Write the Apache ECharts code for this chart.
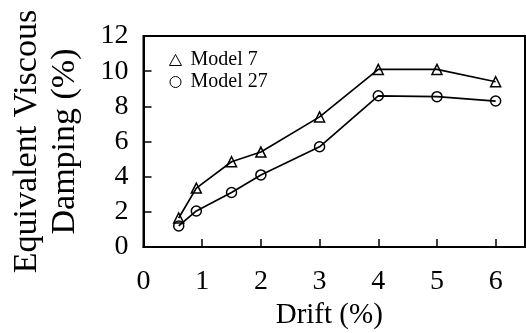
<!DOCTYPE html>
<html>
<head>
<meta charset="utf-8">
<script src="https://cdn.jsdelivr.net/npm/echarts@6/dist/echarts.min.js"></script>
<style>
    html, body {margin: 0; padding: 0; background: #fff;}
    #chart {width: 526px; height: 333px;}
</style>
</head>
<body>
<div id="chart"></div>
<script>
    // drift (%) at each test step
    var drift = [0.6, 0.9, 1.5, 2, 3, 4, 5, 6];
    // equivalent viscous damping (%)
    var model7 = [1.65, 3.35, 4.85, 5.4, 7.4, 10.1, 10.1, 9.4];
    var model27 = [1.2, 2.05, 3.1, 4.1, 5.7, 8.6, 8.55, 8.3];
    var seriesNames = ['Model 7', 'Model 27'];

    var font = 'Liberation Serif, Times New Roman, serif';

    function pairs(xs, ys) {
        var out = [];
        for (var i = 0; i < xs.length; i++) {
            out.push([xs[i], ys[i]]);
        }
        return out;
    }

    function makeSeries(name, values, symbol, size) {
        return {
            name: name,
            type: 'line',
            data: pairs(drift, values),
            symbol: symbol,
            symbolSize: size,
            showAllSymbol: true,
            lineStyle: {color: '#000', width: 1.7},
            itemStyle: {color: 'rgba(0,0,0,0)', borderColor: '#000', borderWidth: 1.5},
            emphasis: {disabled: true},
            z: 3
        };
    }

    var myChart = echarts.init(document.getElementById('chart'), null, {renderer: 'canvas'});
    var option = {
        backgroundColor: '#fff',
        animation: false,
        grid: {
            left: 143.5, top: 36, right: 1, bottom: 86,
            containLabel: false,
            outerBoundsMode: 'none',
            // box closed on top and right
            show: true, borderColor: '#000', borderWidth: 2, backgroundColor: 'rgba(0,0,0,0)'
        },
        legend: {
            orient: 'vertical',
            left: 164,
            top: 45,
            itemWidth: 12,
            itemHeight: 11,
            itemGap: 2,
            textStyle: {fontFamily: font, fontSize: 20, color: '#000', padding: [0, 0, 0, 4]},
            data: [
                {name: seriesNames[0], icon: 'triangle'},
                {name: seriesNames[1], icon: 'circle'}
            ],
            itemStyle: {color: 'rgba(0,0,0,0)', borderColor: '#000', borderWidth: 1}
        },
        xAxis: {
            type: 'value',
            min: 0,
            max: 6.5,
            interval: 1,
            name: 'Drift (%)',
            nameLocation: 'middle',
            nameGap: 53,
            nameTextStyle: {fontFamily: font, fontSize: 29, color: '#000', padding: [0, 10, 0, 0]},
            axisLine: {show: true, lineStyle: {color: '#000', width: 2}},
            axisTick: {show: true, inside: true, length: 8, lineStyle: {color: '#000', width: 1.5}},
            axisLabel: {fontFamily: font, fontSize: 28, color: '#000', margin: 21,
                showMaxLabel: false},
            splitLine: {show: false}
        },
        yAxis: {
            type: 'value',
            min: 0,
            max: 12,
            interval: 2,
            name: 'Equivalent Viscous\nDamping (%)',
            nameLocation: 'middle',
            nameGap: 59,
            nameRotate: 90,
            nameTextStyle: {fontFamily: font, fontSize: 34, color: '#000', lineHeight: 38},
            axisLine: {show: true, lineStyle: {color: '#000', width: 2}},
            axisTick: {show: true, inside: true, length: 8, lineStyle: {color: '#000', width: 1.5}},
            axisLabel: {fontFamily: font, fontSize: 28, color: '#000', margin: 15},
            splitLine: {show: false}
        },
        series: [
            makeSeries(seriesNames[0], model7, 'triangle', 10),
            makeSeries(seriesNames[1], model27, 'circle', 10)
        ]
    };
    myChart.setOption(option);
</script>
</body>
</html>
